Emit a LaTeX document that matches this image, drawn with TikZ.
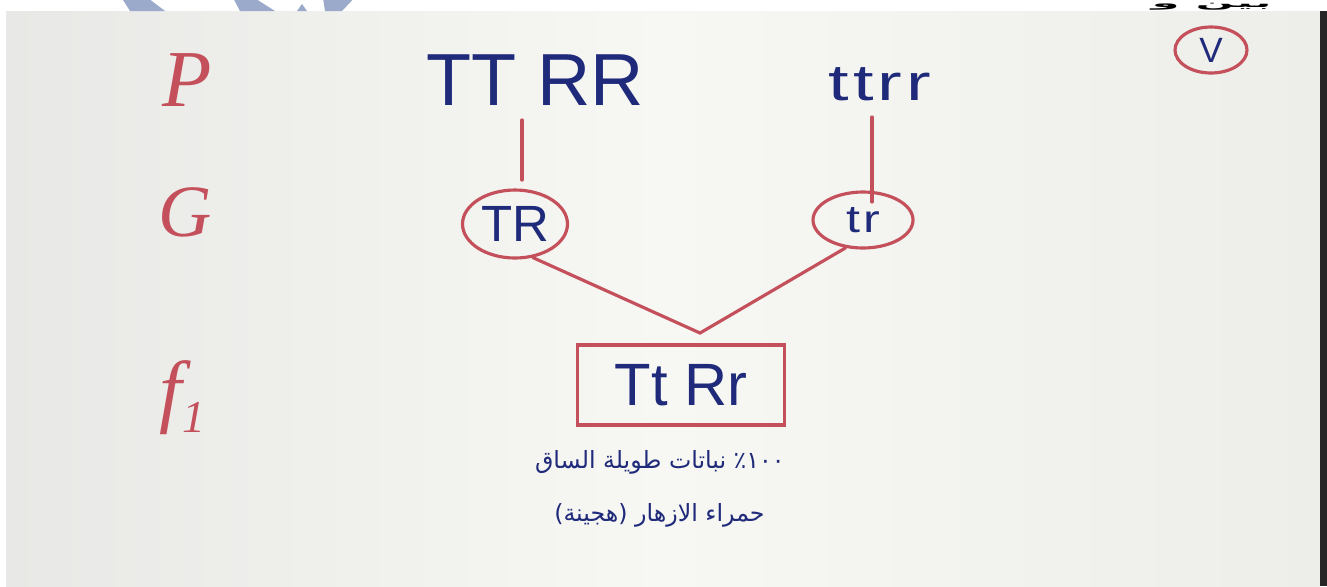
\documentclass[tikz,border=0pt]{standalone}
\usepackage{fontspec}
\setmainfont{Liberation Sans}
\newfontfamily\arabicfont[Script=Arabic]{DejaVu Sans}
\newfontfamily\serifit{Liberation Serif}
\TeXXeTstate=1
\usetikzlibrary{shapes.geometric}
\definecolor{ink}{HTML}{1F2A7A}
\definecolor{redink}{HTML}{C4505C}
\definecolor{paperL}{HTML}{E8E8E6}
\definecolor{paperM}{HTML}{F7F7F3}
\definecolor{paperR}{HTML}{EDEDEA}
\definecolor{wm}{HTML}{9BAACB}
\begin{document}
\begin{tikzpicture}[x=0.02cm,y=-0.02cm,
  bluetext/.style={text=ink,inner sep=0pt},
  gen/.style={text=redink,font=\serifit\itshape\fontsize{46}{46}\selectfont,inner sep=0pt},
  redline/.style={draw=redink,line width=1.8pt,line cap=round},
  gamete/.style={ellipse,draw=redink,line width=1.8pt,text=ink,inner sep=0pt},
  hybridbox/.style={rectangle,draw=redink,line width=2pt,text=ink,inner sep=0pt,
    minimum width=4.14cm,minimum height=1.6cm},
  arab/.style={text=ink,inner sep=0pt,font=\arabicfont\fontsize{13.5}{13.5}\selectfont}]
\useasboundingbox (0,0) rectangle (1327,586);
\fill[white] (0,0) rectangle (1327,586);
% photo background
\shade[left color=paperL,right color=paperR,middle color=paperM,shading angle=90] (6,11) rectangle (1320,586);
\fill[black!85] (1320,11) rectangle (1327,586);
% top band: cut-off watermark and caption
\begin{scope}
  \clip (0,0) rectangle (1327,11);
  \fill[wm] (118,-8) -- (140,-8) -- (165,11) -- (130,11) -- cycle;
  \fill[wm] (230,-8) -- (245,-8) -- (275,11) -- (240,11) -- cycle;
  \fill[wm] (297,11) -- (302,4) -- (307,11) -- cycle;
  \fill[wm] (322,-8) -- (360,-8) -- (342,11) -- (325,11) -- cycle;
\end{scope}
\node[anchor=north east,inner sep=0pt] (cap) at (1272,2.5)
  {\resizebox*{2.4cm}{0.14cm}{\arabicfont\bfseries\beginR بين و\endR}};
% generation labels
\node[gen] (P) at (187,80) {P};
\node[gen,font=\serifit\itshape\fontsize{42}{42}\selectfont] (G) at (185,212) {G};
\node[gen] (F) at (183,398) {f\textsubscript{\fontsize{26}{26}\selectfont 1}};
% parents
\node[bluetext,font=\fontsize{42}{42}\selectfont] (p1) at (535,80) {TT RR};
\node[bluetext,font=\fontsize{29}{29}\selectfont\addfontfeatures{FakeStretch=1.45,LetterSpace=8}] (p2) at (880,84) {ttrr};
% gametes
\node[gamete,minimum width=2.1cm,minimum height=1.36cm,font=\fontsize{29}{29}\selectfont] (TR) at (515,224) {TR};
\node[gamete,minimum width=2.0cm,minimum height=1.12cm,font=\fontsize{22}{22}\selectfont\addfontfeatures{FakeStretch=1.3,LetterSpace=8}] (tr) at (863,220) {tr};
\coordinate (l1a) at (522,120);
\coordinate (l1b) at (522,180);
\coordinate (l2a) at (872,117);
\coordinate (l2b) at (872,202);
\draw[redline] (l1a) -- (l1b);
\draw[redline] (l2a) -- (l2b);
% offspring
\coordinate (apex) at (700,333);
\draw[redline] (TR.-62) -- (apex) -- (tr.-122);
\node[hybridbox,font=\fontsize{34}{34}\selectfont] (F1) at (681,385) {Tt Rr};
% check mark circle
\node[ellipse,draw=redink,line width=1.8pt,minimum width=1.44cm,minimum height=0.92cm,inner sep=0pt,text=ink,font=\fontsize{20}{20}\selectfont] (V) at (1211,50) {V};
% description
\node[arab,anchor=east] (d1) at (785,462) {\beginR\beginL ١٠٠\endL٪ نباتات طويلة الساق\endR};
\node[arab,anchor=east] (d2) at (765,515) {\beginR حمراء الازهار (هجينة)\endR};
\end{tikzpicture}
\end{document}
